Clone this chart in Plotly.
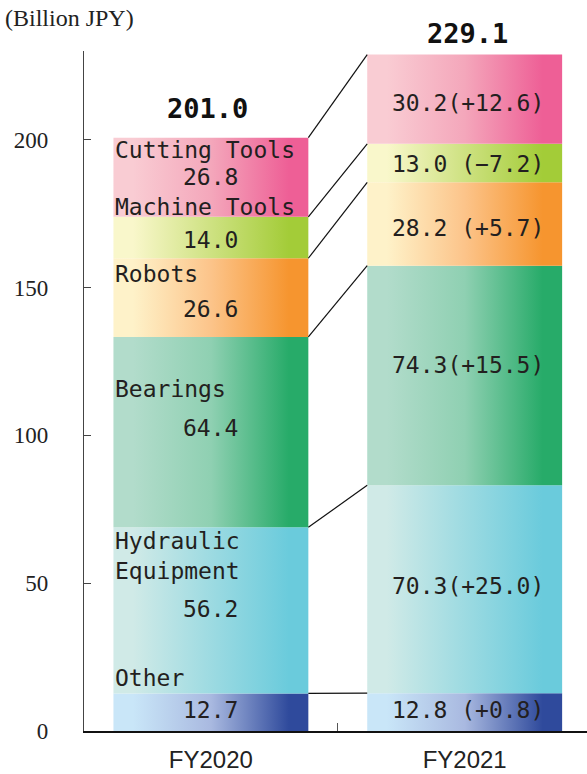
import plotly.graph_objects as go

# ---- data ----
years = ["FY2020", "FY2021"]
segments = ["Other", "Hydraulic<br>Equipment", "Bearings", "Robots", "Machine Tools", "Cutting Tools"]
fy2020 = [12.7, 56.2, 64.4, 26.6, 14.0, 26.8]
fy2021 = [12.8, 70.3, 74.3, 28.2, 13.0, 30.2]
change = [0.8, 25.0, 15.5, 5.7, -7.2, 12.6]
totals = [201.0, 229.1]
yticks = [0, 50, 100, 150, 200]

# ---- styles ----
grad = [("#c9e6f8", "#2f4a9c"),
        ("#d0eae7", "#6acbdc"),
        ("#b2dccb", "#27ab69"),
        ("#fef2c9", "#f6952f"),
        ("#f9f7cb", "#a3cc38"),
        ("#f9ccd3", "#ee5f96")]
mid = ["#a9b9e0", None, "#8fd0b2", "#fcc48a", None, "#f4a7bb"]
name_shift = [15.5, -28.6, -52, -15.5, 10, -12]   # px relative to segment top
val1_shift = [2, 1, 4, -11, -2, 0]                 # px relative to segment middle
val2_shift = [2, 3, 10, -4, -1, -3.5]
total_shift = [29, 21]
W = 0.384
MONO = "DejaVu Sans Mono"
TXT = "#231f20"

fig = go.Figure()


def cum(vals):
    out, s = [], 0.0
    for v in vals:
        out.append((s, s + v))
        s += v
    return out

stacks = [cum(fy2020), cum(fy2021)]

for xi, st in enumerate(stacks):
    for k, (b, t) in enumerate(st):
        light, dark = grad[k]
        cs = [[0, light], [0.1, light]]
        if mid[k]:
            cs.append([0.5, mid[k]])
        cs += [[0.9, dark], [1, dark]]
        fig.add_trace(go.Scatter(
            x=[xi - W, xi + W, xi + W, xi - W, xi - W],
            y=[b, b, t, t, b],
            mode="lines", line=dict(width=0), fill="toself",
            fillcolor=dark,
            fillgradient=dict(type="horizontal", colorscale=cs),
            hoverinfo="skip", showlegend=False))

# connector lines
cx, cy = [], []
for k in range(len(segments)):
    cx += [0 + W, 1 - W, None]
    cy += [stacks[0][k][1], stacks[1][k][1], None]
fig.add_trace(go.Scatter(x=cx, y=cy, mode="lines",
                         line=dict(color="#111", width=1.2),
                         hoverinfo="skip", showlegend=False))

ann = []
for k, name in enumerate(segments):
    b1, t1 = stacks[0][k]
    ann.append(dict(x=-W, y=t1, text=name, xanchor="left", yanchor="middle",
                    align="left", yshift=name_shift[k], showarrow=False,
                    font=dict(family=MONO, size=23, color=TXT)))
    ann.append(dict(x=0, y=(b1 + t1) / 2, text=f"{fy2020[k]:.1f}", xanchor="center",
                    yanchor="middle", yshift=val1_shift[k], showarrow=False,
                    font=dict(family=MONO, size=23, color=TXT)))
    b2, t2 = stacks[1][k]
    chg = "(" + ("+" if change[k] >= 0 else "\u2212") + f"{abs(change[k]):.1f})"
    txt = f"{fy2021[k]:.1f}" + " " * (7 - len(chg)) + chg
    ann.append(dict(x=1, y=(b2 + t2) / 2, text=txt, xanchor="center",
                    yanchor="middle", yshift=val2_shift[k], xshift=3, showarrow=False,
                    font=dict(family=MONO, size=23, color=TXT)))

for xi, tot in enumerate(totals):
    ann.append(dict(x=xi, y=stacks[xi][-1][1], text=f"<b>{tot:.1f}</b>",
                    xanchor="center", yanchor="middle", yshift=total_shift[xi],
                    xshift=(-3 if xi == 0 else 3), showarrow=False,
                    font=dict(family=MONO, size=27, color="#111")))

ann.append(dict(xref="paper", yref="paper", x=0, y=1, xshift=-81, yshift=33,
                xanchor="left", yanchor="middle", text="(Billion JPY)",
                showarrow=False,
                font=dict(family="Liberation Serif", size=24, color="#222")))

fig.update_layout(
    width=587, height=774,
    margin=dict(l=84, r=0, t=51, b=43, autoexpand=False),
    plot_bgcolor="white", paper_bgcolor="white",
    annotations=ann,
    xaxis=dict(range=[-0.5, 1.482], showgrid=False, zeroline=False,
               automargin=False,
               showline=True, linecolor="#111", linewidth=1.5,
               tickmode="array", tickvals=[0, 1], ticktext=years, ticks="",
               ticklabelstandoff=6,
               tickfont=dict(family="Liberation Sans", size=24, color="#222"),
               minor=dict(tickmode="array", tickvals=[0.5], ticks="inside",
                          ticklen=8, tickcolor="#555", tickwidth=1.2, showgrid=False)),
    yaxis=dict(range=[0, 230], showgrid=False, zeroline=False,
               automargin=False,
               showline=True, linecolor="#444", linewidth=1.2,
               tickmode="array", tickvals=yticks, ticks="inside", ticklen=7,
               tickcolor="#444", tickwidth=1.2, ticklabelstandoff=30,
               tickfont=dict(family="Liberation Serif", size=23, color="#222")),
)

fig.write_html("out.html", config={"displayModeBar": False},
               post_script="document.body.style.margin='0';document.body.style.overflow='hidden';")
